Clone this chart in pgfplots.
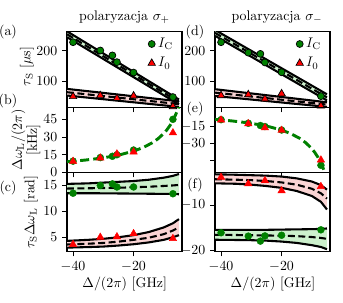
\documentclass[border=0pt]{standalone}
\usepackage{pgfplots}
\usepackage{pgfplotstable}
\pgfplotsset{compat=1.18}
\usepgfplotslibrary{fillbetween}
\definecolor{mgreen}{RGB}{0,128,0}
\definecolor{mred}{RGB}{255,0,0}
\definecolor{bgreen}{RGB}{204,240,204}
\definecolor{bred}{RGB}{250,212,212}

% bands: x, upper, middle, lower
\pgfplotstableread{
x up mid lo
-42 263.5 254 244.5
-5 41 33 25
}\aG
\pgfplotstableread{
x up mid lo
-42 75.7 64.85 54
-5 35.2 26.05 16.9
}\aR
\pgfplotstableread{
x up mid lo
-42 268 258.5 249
-5 58 48 38
}\dG
\pgfplotstableread{
x up mid lo
-42 74.7 63.5 52.4
-5 32 24.5 17
}\dR
\pgfplotstableread{
x up mid lo
-42 15.3 14.4 13.5
-35 15.4 14.45 13.5
-30 15.55 14.5 13.48
-25 15.7 14.55 13.45
-20 15.85 14.65 13.43
-15 16.1 14.75 13.4
-10 16.5 14.9 13.37
-7 16.85 15.0 13.35
-5 17.2 15.1 13.3
}\cG
\pgfplotstableread{
x up mid lo
-42 4.3 3.6 3.0
-35 4.5 3.75 3.1
-30 4.7 3.9 3.2
-25 5.0 4.15 3.4
-20 5.4 4.5 3.65
-15 6.0 4.9 4.0
-10 6.9 5.6 4.5
-7 7.7 6.3 5.0
-5 8.5 6.9 5.4
}\cR
\pgfplotstableread{
x up mid lo
-42 -3.2 -4.3 -5.2
-35 -3.3 -4.4 -5.3
-30 -3.4 -4.5 -5.5
-25 -3.5 -4.7 -5.8
-20 -3.7 -5.0 -6.2
-15 -4.1 -5.5 -6.9
-10 -4.8 -6.4 -8.0
-7 -5.6 -7.4 -9.3
-5 -6.6 -8.6 -11.0
}\fR
\pgfplotstableread{
x up mid lo
-42 -15.5 -16.6 -17.7
-35 -15.5 -16.65 -17.75
-30 -15.5 -16.7 -17.8
-25 -15.5 -16.75 -17.9
-20 -15.45 -16.8 -18.1
-15 -15.4 -16.9 -18.4
-10 -15.35 -17.1 -18.9
-7 -15.3 -17.3 -19.3
-5 -15.2 -17.5 -19.8
}\fG
% fitted light-shift curves
\pgfplotstableread{
x y
-42 9.07
-40 9.50
-36 10.50
-32 11.73
-28 13.29
-24 15.33
-20 18.11
-17 20.95
-14 24.86
-12 28.39
-10 33.09
-9 36.07
-8 39.64
-7 44.00
-6 49.44
-5.5 52.70
-5 56.42
}\bC
\pgfplotstableread{
x y
-42 -9.06
-40 -9.50
-36 -10.52
-32 -11.78
-28 -13.39
-24 -15.50
-20 -18.40
-17 -21.41
-14 -25.59
-12 -29.42
-10 -34.60
-9 -37.93
-8 -41.99
-7 -47.01
-6.5 -50.00
-6 -53.40
-5.5 -57.29
}\eC

\pgfplotsset{
  panel/.style={
    scale only axis, width=82.8pt, anchor=north west,
    xmin=-42, xmax=-4, xtick={-40,-20},
    tick align=outside, xtick pos=bottom, ytick pos=left,
    major tick length=3.5pt,
    tick style={black, line width=0.7pt},
    axis line style={line width=0.8pt},
    clip=true,
  },
  bandline/.style={black, line width=1.5pt, forget plot},
  bandmid/.style={black, line width=1.5pt, dash pattern=on 5pt off 2.5pt, forget plot},
  gdot/.style={only marks, mark=*, mark size=2.5pt, mark options={fill=mgreen, draw=mgreen, line width=0.3pt}},
  rtri/.style={only marks, mark=triangle*, mark size=3.1pt, mark options={fill=mred, draw=mred, line width=0.3pt}},
  gdotE/.style={only marks, mark=*, mark size=2.5pt, mark options={fill=mgreen, draw=black, line width=0.5pt}},
  rtriE/.style={only marks, mark=triangle*, mark size=3.1pt, mark options={fill=mred, draw=black, line width=0.5pt}},
  fitline/.style={mgreen, line width=2.1pt, dash pattern=on 6.5pt off 3pt, forget plot},
  leg/.style={legend style={draw=none, fill=none, at={(0.96,0.97)}, anchor=north east, inner sep=1pt, row sep=1.5pt}, legend cell align=left},
}

\newcommand{\band}[3]{% table, fill colour, name
  \addplot[bandline, name path=#3u] table[x=x, y=up] {#1};
  \addplot[bandline, name path=#3l] table[x=x, y=lo] {#1};
  \addplot[#2, forget plot] fill between[of=#3u and #3l];
  \addplot[bandmid] table[x=x, y=mid] {#1};
}

\begin{document}
\begin{tikzpicture}

% ---------- (a)
\begin{axis}[panel, leg, at={(48.24pt,195.48pt)}, height=54.72pt,
  ymin=15, ymax=263, ytick={100,200}, xticklabels={}]
\band{\aG}{bgreen}{ag}
\band{\aR}{bred}{ar}
\addplot[gdotE] coordinates {(-40,228) (-31,201) (-27,185) (-25.5,163) (-20,129) (-7,49)};
\addlegendentry{$I_{\mathrm{C}}$}
\addplot[rtriE] coordinates {(-40,51) (-31,54) (-25.5,45) (-20,53) (-7,18)};
\addlegendentry{$I_0$}
\end{axis}

% ---------- (b)
\begin{axis}[panel, at={(48.24pt,140.76pt)}, height=46.8pt,
  ymin=0, ymax=55, ytick={0,15,30,45}, xticklabels={}]
\addplot[fitline] table[x=x,y=y] {\bC};
\addplot[gdot] coordinates {(-40,9.6) (-31,12.6) (-27,13.7) (-25.5,15.0) (-20,19.0) (-7,45)};
\addplot[rtri] coordinates {(-40,9.4) (-31,12.3) (-25.5,15.7) (-20,17.4) (-7,33.6)};
\end{axis}

% ---------- (c)
\begin{axis}[panel, at={(48.24pt,93.96pt)}, height=56.88pt,
  ymin=2.25, ymax=17.5, ytick={5,10,15}]
\band{\cG}{bgreen}{cg}
\band{\cR}{bred}{cr}
\addplot[gdot] coordinates {(-40,13.5) (-31,15.0) (-27,15.3) (-25.5,14.7) (-20,14.7) (-7,13.4)};
\addplot[rtri] coordinates {(-40,3.6) (-31,5.0) (-25.5,5.1) (-20,5.7) (-7,4.75)};
\end{axis}

% ---------- (d)
\begin{axis}[panel, leg, at={(154.8pt,195.48pt)}, height=54.72pt,
  ymin=15, ymax=263, ytick={100,200}, xticklabels={}]
\band{\dG}{bgreen}{dg}
\band{\dR}{bred}{dr}
\addplot[gdotE] coordinates {(-40,228) (-31,194) (-27,190) (-25.5,162) (-20,130) (-7,52)};
\addlegendentry{$I_{\mathrm{C}}$}
\addplot[rtriE] coordinates {(-40,54) (-31,57) (-25.5,43) (-20,60) (-7,20)};
\addlegendentry{$I_0$}
\end{axis}

% ---------- (e)
\begin{axis}[panel, at={(154.8pt,140.76pt)}, height=46.8pt,
  ymin=-55.3, ymax=1.3, ytick={-45,-30,-15}, yticklabels={,$-30$,$-15$}, xticklabels={}]
\addplot[fitline] table[x=x,y=y] {\eC};
\addplot[gdot] coordinates {(-40,-9.3) (-31,-12.4) (-27,-14.4) (-25.5,-15.3) (-20,-18.3) (-7,-49)};
\addplot[rtri] coordinates {(-40,-9.6) (-31,-12.8) (-25.5,-16.4) (-20,-18.6) (-7,-44.4)};
\end{axis}

% ---------- (f)
\begin{axis}[panel, at={(154.8pt,93.96pt)}, height=56.88pt,
  ymin=-20.3, ymax=-2.8, ytick={-20,-10}]
\band{\fR}{bred}{fr}
\band{\fG}{bgreen}{fg}
\addplot[gdot] coordinates {(-40,-16.15) (-31,-16.9) (-27,-18.0) (-25.5,-16.85) (-20,-16.7) (-7,-15.5)};
\addplot[rtri] coordinates {(-40,-3.85) (-31,-5.3) (-25.5,-4.6) (-20,-6.85) (-7,-5.9)};
\end{axis}

% ---------- texts
\node at (89.64pt,205.92pt) {polaryzacja $\sigma_+$};
\node at (199.5pt,205.92pt) {polaryzacja $\sigma_-$};
\node at (89.78pt,13.68pt) {$\Delta/(2\pi)$ [GHz]};
\node at (196.56pt,13.68pt) {$\Delta/(2\pi)$ [GHz]};
\node[rotate=90] at (19.44pt,170.3pt) {$\tau_{\mathrm{S}}$ [$\mu$s]};
\node[rotate=90] at (13.2pt,117.36pt) {$\Delta\omega_{\mathrm{L}}/(2\pi)$};
\node[rotate=90] at (24pt,117.36pt) {[kHz]};
\node[rotate=90] at (22.32pt,65.52pt) {$\tau_{\mathrm{S}}\Delta\omega_{\mathrm{L}}$ [rad]};
\node at (5.76pt,195.12pt) {(a)};
\node at (5.76pt,145.08pt) {(b)};
\node at (5.76pt,82.8pt) {(c)};
\node at (140.4pt,195.12pt) {(d)};
\node at (140.4pt,140pt) {(e)};
\node at (140.4pt,84.96pt) {(f)};

\pgfresetboundingbox
\path[use as bounding box] (0,0) rectangle (246.96pt,218.16pt);
\end{tikzpicture}
\end{document}
